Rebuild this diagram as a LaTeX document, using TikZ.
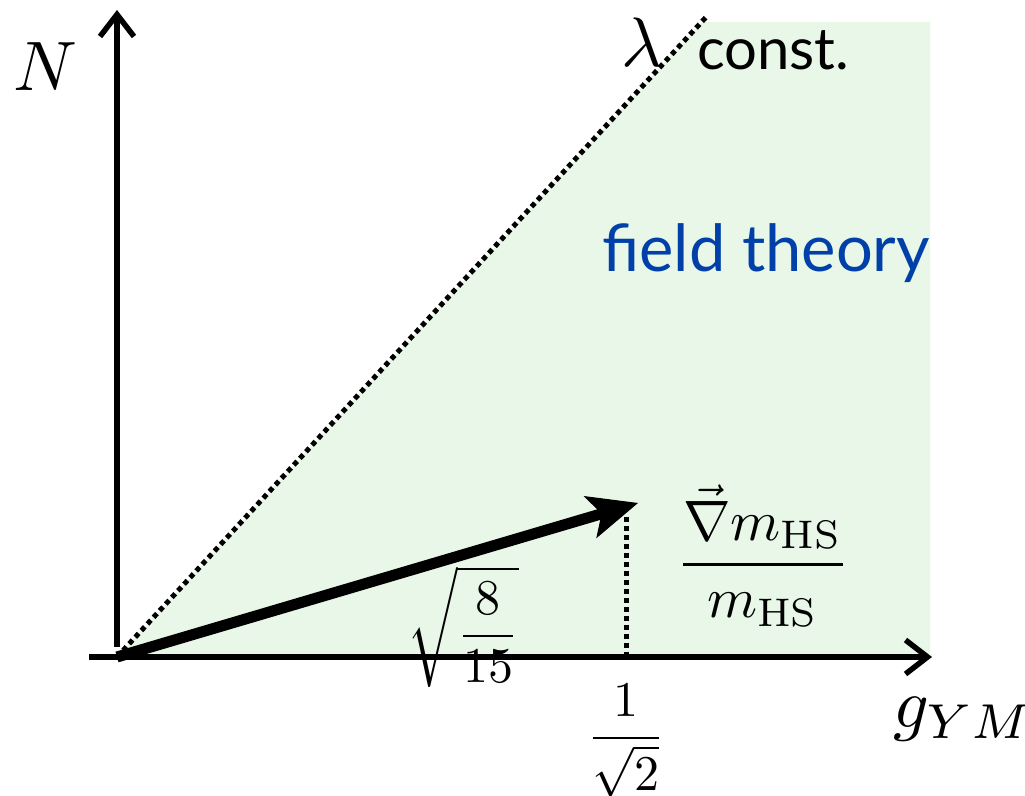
\documentclass[tikz,border=0pt]{standalone}
\usepackage{amsmath}
\usepackage{fontspec}
\setsansfont{Lato}
\usepackage{tikz}
\usetikzlibrary{arrows.meta}

\definecolor{fieldgreen}{RGB}{232,247,232}
\definecolor{fieldblue}{RGB}{0,64,168}
\newcommand{\mathat}[2]{\scalebox{#1}{$\displaystyle #2$}}

\begin{document}
\begin{tikzpicture}[x=1pt, y=1pt,
    axis/.style={line width=5.5pt, -{Straight Barb[length=22pt,width=34pt,line width=5.5pt]}},
    dots/.style={line width=5pt, dash pattern=on 5pt off 4pt},
    words/.style={font=\fontsize{58}{66}\selectfont\sffamily, inner sep=0pt}]
    \useasboundingbox (-117,-138) rectangle (908,657);

    % region and guide lines
    \coordinate (O) at (0,0);
    \coordinate (lamtop) at (591,642);
    \coordinate (drop) at (509,140);
    \fill[fieldgreen] (O) -- (585,635) -- (813,635) -- (813,0) -- cycle;
    \draw[dots] (O) -- (lamtop);
    \draw[dots] (drop) -- (drop |- O);

    % axes
    \coordinate (xstart) at (-28,0);
    \coordinate (xend) at (815,0);
    \coordinate (ystart) at (0,10);
    \coordinate (yend) at (0,647);
    \draw[axis] (xstart) -- (xend);
    \draw[axis] (ystart) -- (yend);

    % gradient vector
    \coordinate (tip) at (521,154);
    \draw[line width=11pt, -{Stealth[length=50pt,width=44pt,inset=12pt,line width=1pt]}] (O) -- (tip);

    % labels
    \node (Nlab) at (-72,590) {\mathat{7}{N}};
    \node[anchor=base] (lam) at (525,590) {\mathat{7}{\lambda}};
    \node[words, anchor=base west] (const) at (580,587) {const.};
    \node[words, anchor=base west, text=fieldblue, font=\fontsize{65}{72}\selectfont\sffamily] (field) at (485,385) {field theory};
    \node (grad) at (646,101) {\mathat{5.7}{\frac{\vec{\nabla} m_{\mathrm{HS}}}{m_{\mathrm{HS}}}}};
    \node (root) at (346,30) {\mathat{5}{\sqrt{\frac{8}{15}}}};
    \node (half) at (509,-84) {\mathat{5}{\frac{1}{\sqrt{2}}}};
    \node[anchor=base west, inner sep=0pt] (gym) at (776,-71) {\mathat{7}{g_{YM}}};
\end{tikzpicture}
\end{document}
